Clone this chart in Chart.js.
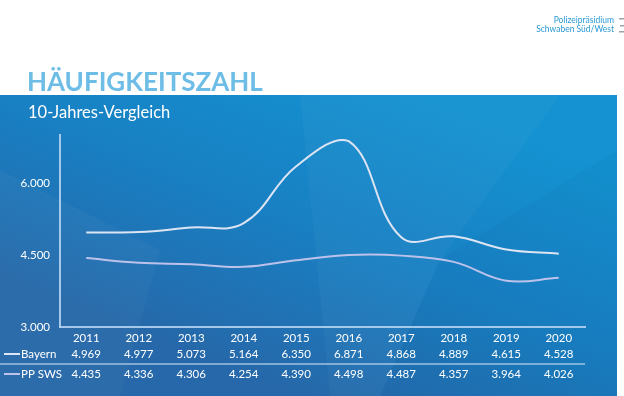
<!DOCTYPE html>
<html>
<head>
<meta charset="utf-8">
<script src="https://cdn.jsdelivr.net/npm/chart.js@4/dist/chart.umd.min.js"></script>
<style>
  html, body { margin: 0; padding: 0; background: #fff; }
  #wrap { width: 624px; height: 396px; position: relative; }
</style>
</head>
<body>
<div id="wrap"><canvas id="c" width="624" height="396"></canvas></div>
<script>
const years = ['2011', '2012', '2013', '2014', '2015', '2016', '2017', '2018', '2019', '2020'];
const bayern = [4969, 4977, 5073, 5164, 6350, 6871, 4868, 4889, 4615, 4528];
const ppSws = [4435, 4336, 4306, 4254, 4390, 4498, 4487, 4357, 3964, 4026];
const yTicks = [3000, 4500, 6000];

const FONT = 'Lato, "Open Sans", sans-serif';

function fmt(v) {
  return String(v).replace(/\B(?=(\d{3})+(?!\d))/g, '.');
}

const slideDeco = {
  id: 'slideDeco',
  beforeDraw(chart) {
    const {ctx, width, height} = chart;
    ctx.save();
    ctx.fillStyle = '#ffffff';
    ctx.fillRect(0, 0, width, height);

    // blue band
    const g = ctx.createLinearGradient(420, 95, 300, 396);
    g.addColorStop(0, '#1492d1');
    g.addColorStop(0.5, '#1880c3');
    g.addColorStop(1, '#2668a9');
    ctx.fillStyle = g;
    ctx.fillRect(0, 95, 617, height - 95);

    // faint lozenge shapes
    ctx.beginPath();
    ctx.rect(0, 95, 617, height - 95);
    ctx.clip();
    ctx.fillStyle = 'rgba(255,255,255,0.03)';
    ctx.beginPath();
    ctx.moveTo(300, 95); ctx.lineTo(560, 95); ctx.lineTo(440, 260); ctx.lineTo(380, 396); ctx.lineTo(330, 396);
    ctx.closePath(); ctx.fill();
    ctx.beginPath();
    ctx.moveTo(0, 170); ctx.lineTo(160, 250); ctx.lineTo(120, 396); ctx.lineTo(0, 396);
    ctx.closePath(); ctx.fill();
    ctx.fillStyle = 'rgba(0,40,100,0.04)';
    ctx.beginPath();
    ctx.moveTo(440, 260); ctx.lineTo(617, 150); ctx.lineTo(617, 396); ctx.lineTo(380, 396);
    ctx.closePath(); ctx.fill();
    ctx.restore();

    // title and subtitle
    ctx.save();
    ctx.fillStyle = '#6dbde6';
    ctx.font = 'bold 26px ' + FONT;
    ctx.textBaseline = 'alphabetic';
    ctx.fillText('HÄUFIGKEITSZAHL', 27, 91);
    ctx.fillStyle = '#ffffff';
    ctx.font = '16.5px ' + FONT;
    ctx.fillText('10-Jahres-Vergleich', 28, 118);

    // logo text
    ctx.fillStyle = '#2b9ad6';
    ctx.font = '8.5px ' + FONT;
    ctx.textAlign = 'right';
    ctx.fillText('Polizeipräsidium', 614, 23);
    ctx.fillText('Schwaben Süd/West', 614, 32);
    ctx.fillStyle = '#9aa4ad';
    ctx.fillRect(619, 18, 5, 1.5);
    ctx.fillRect(620, 25, 4, 1.5);
    ctx.fillRect(619, 31, 5, 1.5);
    ctx.restore();
  },
  afterDraw(chart) {
    const {ctx, scales: {x}} = chart;
    ctx.save();
    ctx.font = '11.5px ' + FONT;
    ctx.textBaseline = 'middle';
    const rows = [
      {label: 'Bayern', data: bayern, color: chart.data.datasets[0].borderColor, y: 354},
      {label: 'PP SWS', data: ppSws, color: chart.data.datasets[1].borderColor, y: 374}
    ];
    rows.forEach(row => {
      ctx.strokeStyle = row.color;
      ctx.lineWidth = 2;
      ctx.beginPath();
      ctx.moveTo(4, row.y);
      ctx.lineTo(20, row.y);
      ctx.stroke();
      ctx.fillStyle = '#ffffff';
      ctx.textAlign = 'left';
      ctx.fillText(row.label, 21, row.y);
      ctx.textAlign = 'center';
      row.data.forEach((v, i) => {
        ctx.fillText(fmt(v), x.getPixelForValue(i), row.y);
      });
    });
    ctx.strokeStyle = 'rgba(190,215,240,0.8)';
    ctx.lineWidth = 1.5;
    ctx.beginPath();
    ctx.moveTo(0, 364);
    ctx.lineTo(585, 364);
    ctx.stroke();
    ctx.restore();
  }
};

new Chart(document.getElementById('c'), {
  type: 'line',
  data: {
    labels: years,
    datasets: [
      {label: 'Bayern', data: bayern, borderColor: '#dde4f3', borderWidth: 2, pointRadius: 0, tension: 0.4, fill: false},
      {label: 'PP SWS', data: ppSws, borderColor: '#bcc2ea', borderWidth: 2, pointRadius: 0, tension: 0.4, fill: false}
    ]
  },
  options: {
    responsive: false,
    animation: false,
    layout: {padding: {left: 0, top: 135, right: 39, bottom: 49}},
    scales: {
      x: {
        offset: true,
        grid: {display: false, drawTicks: false},
        border: {color: 'rgba(180,210,240,0.9)', width: 2},
        ticks: {color: '#ffffff', padding: 4, font: {family: FONT, size: 11.5}, maxRotation: 0},
        afterFit(scale) { scale.height = 20; }
      },
      y: {
        min: 3000,
        max: 7000,
        grid: {display: false, drawTicks: false},
        border: {color: 'rgba(180,210,240,0.9)', width: 2},
        afterBuildTicks(scale) { scale.ticks = yTicks.map(v => ({value: v})); },
        ticks: {color: '#ffffff', padding: 10, font: {family: FONT, size: 11.5}, callback: v => fmt(v)},
        afterFit(scale) { scale.width = 60; }
      }
    },
    plugins: {
      legend: {display: false},
      tooltip: {enabled: false}
    }
  },
  plugins: [slideDeco]
});
</script>
</body>
</html>
